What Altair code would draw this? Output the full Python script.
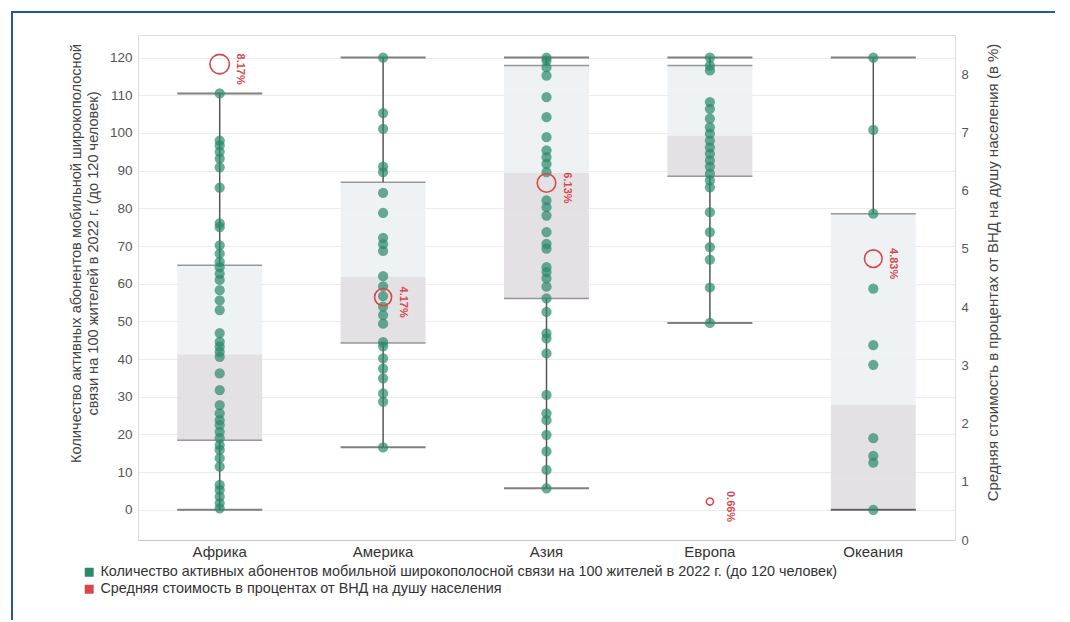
import altair as alt
import pandas as pd

# ---------------- data ----------------
regions = ["Африка", "Америка", "Азия", "Европа", "Океания"]

africa_vals = [110.5, 98, 96.7, 95, 93.2, 90.9, 85.5, 76, 75, 70.2, 68, 65.8, 64.4,
               62.7, 61, 58.3, 55.6, 53, 46.9, 44.6, 43.3, 41.9, 40.6, 36.2, 31.8,
               27.8, 25.6, 23.8, 22.5, 20.7, 19, 17.2, 15.9, 13.7, 11.5, 6.6, 5.3,
               3.5, 1.8, 0.4]
america_vals = [120, 105.3, 101.1, 91.1, 89.6, 84.1, 78.8, 72.2, 70.5, 68.7, 62, 59.3,
                56.7, 53.9, 51.7, 49.4, 44.5, 43.4, 40.2, 37.5, 34.9, 30.9, 28.7, 16.6]
asia_vals = [120, 119.2, 117.4, 115.2, 109.5, 104.2, 98.9, 95.4, 93.6, 91.8, 89.6, 82.1,
             80.3, 78.1, 73.7, 70.6, 69.3, 64.4, 63.1, 61.4, 59.2, 56.1, 52.5, 46.8,
             45.5, 41.5, 30.5, 25.6, 23.8, 19.9, 15.5, 10.6, 5.7]
europe_vals = [120, 117.9, 116.6, 108.2, 106.4, 103.8, 101.5, 99.8, 98, 96.2, 94.5,
               92.7, 91.1, 89.2, 87.4, 85.6, 79, 73.7, 69.7, 66.4, 59, 49.6]
oceania_vals = [120, 100.8, 78.6, 58.7, 43.7, 38.5, 19, 14.3, 12.5, 0]

whisker_low = [0, 16.6, 5.7, 49.6, 0]
q1 = [18.5, 44.3, 56.1, 88.5, 0]
median = [41.3, 61.8, 89.4, 99.3, 27.8]
q3 = [64.9, 86.9, 117.9, 117.9, 78.6]
whisker_high = [110.5, 120, 120, 120, 120]

cost_pct = [8.17, 4.17, 6.13, 0.66, 4.83]
cost_labels = ["8.17%", "4.17%", "6.13%", "0.66%", "4.83%"]

series_names = [
    "Количество активных абонентов мобильной широкополосной связи на 100 жителей в 2022 г. (до 120 человек)",
    "Средняя стоимость в процентах от ВНД на душу населения",
]
left_title = ["Количество активных абонентов мобильной широкополосной",
              "связи на 100 жителей в 2022 г. (до 120 человек)"]
right_title = "Средняя стоимость в процентах от ВНД на душу населения (в %)"
left_ticks = list(range(0, 121, 10))
right_ticks = list(range(0, 9))

# ---------------- tables ----------------
dots = pd.DataFrame(
    [(r, v) for r, vals in zip(regions, [africa_vals, america_vals, asia_vals,
                                          europe_vals, oceania_vals]) for v in vals],
    columns=["region", "value"])
dots["series"] = series_names[0]

boxes = pd.DataFrame({"region": regions, "wlo": whisker_low, "q1": q1,
                      "median": median, "q3": q3, "whi": whisker_high})

costs = pd.DataFrame({"region": regions, "cost": cost_pct, "label": cost_labels})
costs["series"] = series_names[1]

TEAL = "#2a896b"
RED = "#d9474a"
FONT = "Liberation Sans"

x_enc = alt.X("region:N", sort=regions,
              scale=alt.Scale(domain=regions, paddingInner=0, paddingOuter=0),
              axis=alt.Axis(title=None, labelAngle=0, ticks=False, labelFontSize=15,
                            labelColor="#333", labelPadding=4, domainColor="#c8c8c8",
                            grid=False))

left_scale = alt.Scale(domain=[-8, 126], nice=False, zero=False)
left_axis = alt.Axis(values=left_ticks, title=left_title, titleFontSize=14.6,
                     titleFontWeight="normal", titleColor="#444", labelFontSize=13.5,
                     labelColor="#555", ticks=False, labelPadding=6, titlePadding=9,
                     titleY=218, domainColor="#dddddd", grid=True, gridColor="#ececec")


def yl(field):
    return alt.Y(f"{field}:Q", scale=left_scale, axis=left_axis)


color_scale = alt.Scale(domain=series_names, range=[TEAL, RED])
legend = alt.Legend(title=None, orient="none", legendX=-56, legendY=530,
                    symbolType="square", symbolSize=55, symbolOpacity=1,
                    labelFontSize=14.4, labelColor="#333", labelLimit=1200,
                    rowPadding=2, padding=0)

# decorative page frame (blue border of the original figure)
frame = alt.Chart(pd.DataFrame({"k": [0]})).mark_rect(
    filled=False, stroke="#1e5c9c", strokeWidth=2).encode(
    x=alt.value(-126), x2=alt.value(920), y=alt.value(-23), y2=alt.value(640))

base_box = alt.Chart(boxes)

upper = base_box.mark_bar(width=alt.RelativeBandSize(0.52), color="#edf1f4",
                          opacity=0.9).encode(x=x_enc, y=yl("median"), y2="q3")
lower = base_box.mark_bar(width=alt.RelativeBandSize(0.52), color="#e1dee1",
                          opacity=0.9).encode(x=x_enc, y=yl("q1"), y2="median")
whisk_hi = base_box.mark_rule(color="#555", strokeWidth=1.5).encode(
    x=x_enc, y=yl("q3"), y2="whi")
whisk_lo = base_box.mark_rule(color="#555", strokeWidth=1.5).encode(
    x=x_enc, y=yl("wlo"), y2="q1")
q_lines = []
for f, col, th in [("q1", "#6f6f6f", 1.5), ("q3", "#6f6f6f", 1.5),
                   ("wlo", "#4a4a4a", 2), ("whi", "#4a4a4a", 2)]:
    q_lines.append(base_box.mark_tick(size=85, thickness=th, color=col).encode(
        x=x_enc, y=yl(f)))

dot_layer = alt.Chart(dots).mark_circle(size=105, opacity=0.7).encode(
    x=x_enc, y=yl("value"),
    color=alt.Color("series:N", scale=color_scale, legend=legend))

left = alt.layer(upper, lower, whisk_hi, whisk_lo, *q_lines, dot_layer, frame)

right_scale = alt.Scale(domain=[0, 8.67], nice=False, zero=True)
right_axis = alt.Axis(orient="right", values=right_ticks, title=right_title,
                      titleAngle=270, titleFontSize=15, titleFontWeight="normal",
                      titleColor="#444", labelFontSize=13, labelColor="#555",
                      ticks=False, labelPadding=6, titlePadding=32, titleY=237,
                      domainColor="#dddddd", grid=False)

circ = alt.Chart(costs).mark_point(filled=False, strokeWidth=1.6, opacity=1).encode(
    x=x_enc,
    y=alt.Y("cost:Q", scale=right_scale, axis=right_axis),
    color=alt.Color("series:N", scale=color_scale, legend=legend),
    size=alt.Size("cost:Q", scale=alt.Scale(type="log", domain=[0.66, 8.17],
                                            range=[50, 380]), legend=None))
lab = alt.Chart(costs).mark_text(angle=90, align="center", baseline="middle", dy=-20,
                                 dx=5, fontSize=11, fontWeight="bold", color=RED,
                                 font=FONT).encode(
    x=x_enc, y=alt.Y("cost:Q", scale=right_scale, axis=right_axis), text="label:N")

right = alt.layer(circ, lab)

chart = alt.layer(left, right).resolve_scale(y="independent").properties(
    width=817, height=505,
    autosize=alt.AutoSizeParams(type="none"),
    padding={"left": 130, "top": 27, "right": 100, "bottom": 80},
).configure_view(strokeWidth=0).configure(font=FONT)

chart.save("out.html", embed_options={"renderer": "svg", "actions": False})
